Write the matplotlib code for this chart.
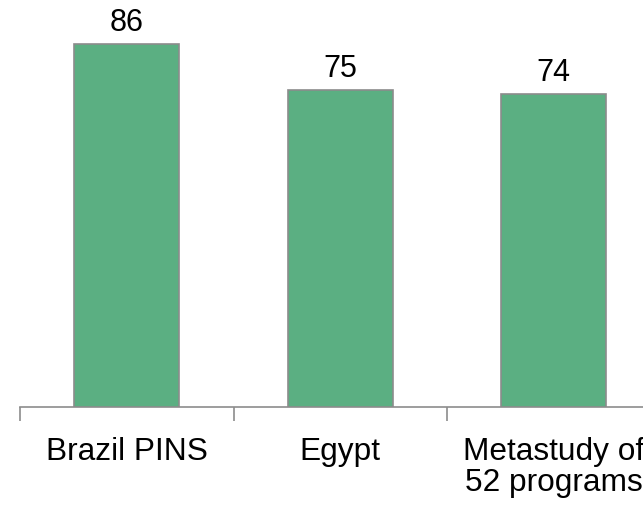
import matplotlib
matplotlib.use("Agg")
import matplotlib.pyplot as plt

categories = ["Brazil PINS", "Egypt", "Metastudy of\n52 programs"]
values = [86, 75, 74]

W, H = 643, 505
fig = plt.figure(figsize=(W / 100, H / 100), dpi=100)
plt.rcParams['font.family'] = ['Liberation Sans', 'DejaVu Sans']

cat_w = 213.5
left_px = 20
base_px = 406.5
scale = 4.22
ax_left = left_px / W
ax_width = 3 * cat_w / W
ax_bottom = (H - base_px) / H
ax_height = base_px / H
ax = fig.add_axes([ax_left, ax_bottom, ax_width, ax_height])

x = list(range(len(categories)))
bars = ax.bar(x, values, width=0.49, color="#5BAF82", edgecolor="#8C8C8C", linewidth=1.2, zorder=3)
ax.set_xlim(-0.5, 2.5)
ax.set_ylim(0, base_px / scale)

for xi, v in zip(x, values):
    ax.text(xi, v + 13 / scale, str(v), ha="center", va="baseline", fontsize=22, color="black")

for s in ["top", "right", "left"]:
    ax.spines[s].set_visible(False)
ax.spines["bottom"].set_color("#8C8C8C")
ax.spines["bottom"].set_linewidth(1.2)
ax.set_yticks([])
ax.set_xticks([-0.5, 0.5, 1.5, 2.5])
ax.set_xticklabels([])
ax.tick_params(axis="x", length=10, width=1.2, color="#8C8C8C")
ax.set_xticks(x, minor=True)
ax.set_xticklabels(categories, minor=True, fontsize=22.8, linespacing=1.05)
ax.tick_params(axis="x", which="minor", length=0, pad=22)

fig.savefig("out.png", dpi=100)
